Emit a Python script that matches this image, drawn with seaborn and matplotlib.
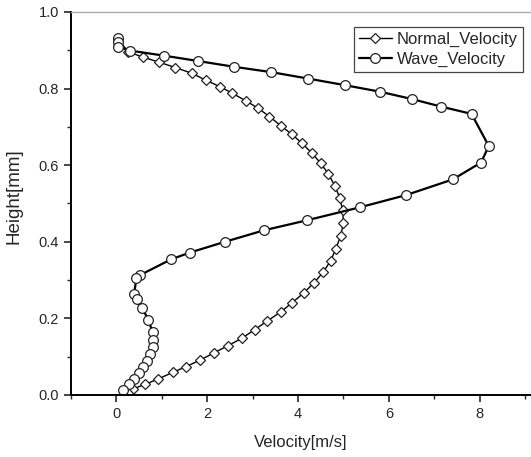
import matplotlib
matplotlib.use("Agg")
import matplotlib.pyplot as plt
import seaborn as sns
import pandas as pd
from matplotlib.ticker import MultipleLocator

normal_v = [0.04, 0.26, 0.59, 0.94, 1.30, 1.66, 1.97, 2.28, 2.55, 2.85, 3.12, 3.37, 3.62, 3.86,
            4.09, 4.31, 4.50, 4.67, 4.81, 4.92, 4.98, 5.00, 4.94, 4.83, 4.72, 4.55, 4.35, 4.13,
            3.87, 3.62, 3.32, 3.05, 2.76, 2.46, 2.15, 1.84, 1.53, 1.24, 0.92, 0.64, 0.36, 0.26]
normal_h = [0.929, 0.896, 0.882, 0.869, 0.855, 0.840, 0.822, 0.805, 0.788, 0.768, 0.749, 0.727,
            0.703, 0.681, 0.657, 0.631, 0.605, 0.577, 0.546, 0.515, 0.483, 0.450, 0.416, 0.381,
            0.351, 0.320, 0.293, 0.267, 0.241, 0.217, 0.193, 0.171, 0.148, 0.129, 0.110, 0.091,
            0.074, 0.059, 0.042, 0.028, 0.016, 0.006]

wave_v = [0.04, 0.04, 0.04, 0.31, 1.05, 1.80, 2.59, 3.41, 4.23, 5.03, 5.80, 6.50, 7.15, 7.82,
          8.20, 8.03, 7.41, 6.38, 5.36, 4.19, 3.25, 2.39, 1.62, 1.20, 0.52, 0.44, 0.39, 0.46,
          0.57, 0.70, 0.80, 0.81, 0.80, 0.74, 0.68, 0.59, 0.50, 0.39, 0.28, 0.15]
wave_h = [0.931, 0.922, 0.909, 0.899, 0.886, 0.872, 0.857, 0.843, 0.826, 0.809, 0.792, 0.773,
          0.753, 0.734, 0.650, 0.607, 0.563, 0.522, 0.490, 0.456, 0.430, 0.400, 0.372, 0.354,
          0.313, 0.305, 0.264, 0.250, 0.228, 0.196, 0.164, 0.144, 0.125, 0.106, 0.089, 0.072,
          0.057, 0.041, 0.028, 0.013]

series_names = ["Normal_Velocity", "Wave_Velocity"]

df_n = pd.DataFrame({"v": normal_v, "h": normal_h})
df_w = pd.DataFrame({"v": wave_v, "h": wave_h})

sns.set_style("ticks")
plt.rcParams['font.family'] = ['Liberation Sans', 'DejaVu Sans']

fig = plt.figure(figsize=(5.31, 4.57), dpi=100)
ax = fig.add_axes([71/531, 62/457, 460/531, 383/457])

sns.lineplot(data=df_n, x="v", y="h", sort=False, estimator=None, ax=ax,
             color="black", linewidth=1.0, marker="D", markersize=5.5,
             markerfacecolor="white", markeredgecolor="#222222", markeredgewidth=0.9,
             label=series_names[0])
sns.lineplot(data=df_w, x="v", y="h", sort=False, estimator=None, ax=ax,
             color="black", linewidth=1.6, marker="o", markersize=7,
             markerfacecolor="white", markeredgecolor="#222222", markeredgewidth=0.9,
             label=series_names[1])

ax.set_xlim(-1.0, 9.13)
ax.set_ylim(0.0, 1.0)
ax.xaxis.set_major_locator(MultipleLocator(2))
ax.xaxis.set_minor_locator(MultipleLocator(1))
ax.yaxis.set_major_locator(MultipleLocator(0.2))
ax.yaxis.set_minor_locator(MultipleLocator(0.1))
ax.yaxis.set_major_formatter(matplotlib.ticker.FormatStrFormatter('%.1f'))
ax.tick_params(axis='both', which='major', direction='out', length=5, width=1.2, labelsize=10.5)
ax.tick_params(axis='both', which='minor', direction='out', length=3, width=1.0)

for s in ['left', 'bottom']:
    ax.spines[s].set_linewidth(1.4)
    ax.spines[s].set_color('black')
ax.spines['top'].set_color('#aaaaaa')
ax.spines['top'].set_linewidth(1.0)
ax.spines['right'].set_visible(False)

ax.set_xlabel("Velocity[m/s]", fontsize=12, labelpad=10)
ax.set_ylabel("Height[mm]", fontsize=13.5)
ax.yaxis.set_label_coords(-0.105, 0.52)

leg = ax.legend(loc='upper right', bbox_to_anchor=(0.99, 0.97), fontsize=12,
                frameon=True, fancybox=False, edgecolor='#444444', framealpha=1,
                handlelength=2.0, handletextpad=0.3, borderpad=0.3, labelspacing=0.3,
                borderaxespad=0.2)
leg.get_frame().set_linewidth(0.9)

fig.savefig("out.png", dpi=100)
